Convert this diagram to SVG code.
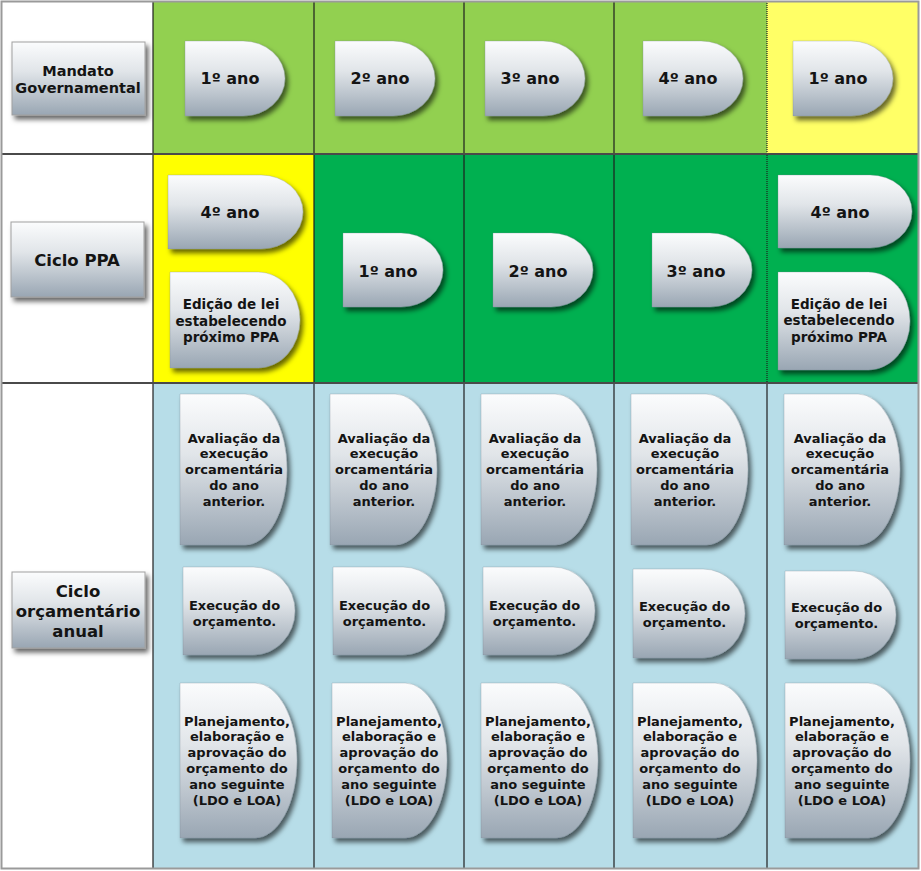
<svg xmlns="http://www.w3.org/2000/svg" width="921" height="871" viewBox="0 0 921 871">
<defs>
<linearGradient id="g" x1="0" y1="0" x2="0" y2="1">
<stop offset="0" stop-color="#fbfcfd"/>
<stop offset="0.4" stop-color="#e1e5e9"/>
<stop offset="1" stop-color="#99a6b3"/>
</linearGradient>
<filter id="sh" x="-15%" y="-15%" width="135%" height="135%">
<feDropShadow dx="3" dy="4" stdDeviation="2.4" flood-color="#000" flood-opacity="0.6"/>
</filter>
<style>
.s{fill:url(#g);filter:url(#sh);stroke:#7d8894;stroke-width:0.6;stroke-opacity:0.5}
.lb{fill:url(#g);filter:url(#sh);stroke:#a0a0a0;stroke-width:1}
.t{font-family:"DejaVu Sans",Verdana,sans-serif;font-weight:bold;fill:#141414;text-anchor:middle}
.f16{font-size:16px}
.f13{font-size:13px}
.f135{font-size:13.5px}
.f14{font-size:14.5px}
.f17{font-size:16.5px}
.vl{stroke:#1e1e1e;stroke-width:1.2}
.hl{stroke:#4a4a4a;stroke-width:2}
</style>
</defs>
<g id="grid">
<rect x="0" y="0" width="921" height="871" fill="#ffffff"/>
<rect x="153" y="1" width="161" height="153" fill="#92d050"/>
<rect x="314" y="1" width="150" height="153" fill="#92d050"/>
<rect x="464" y="1" width="150" height="153" fill="#92d050"/>
<rect x="614" y="1" width="153" height="153" fill="#92d050"/>
<rect x="767" y="1" width="152" height="153" fill="#ffff66"/>
<rect x="153" y="154" width="161" height="229" fill="#ffff00"/>
<rect x="314" y="154" width="605" height="229" fill="#00b050"/>
<rect x="153" y="383" width="766" height="485" fill="#b7dde8"/>
<line class="vl" x1="153" y1="1" x2="153" y2="868"/>
<line class="vl" x1="314" y1="1" x2="314" y2="868"/>
<line class="vl" x1="464" y1="1" x2="464" y2="868"/>
<line class="vl" x1="614" y1="1" x2="614" y2="868"/>
<line class="vl" x1="767" y1="1" x2="767" y2="383" stroke-dasharray="1 1"/>
<line class="vl" x1="767" y1="383" x2="767" y2="868"/>
<line class="hl" x1="1" y1="154" x2="919" y2="154"/>
<line class="hl" x1="1" y1="383" x2="919" y2="383"/>
<rect x="1.5" y="1.5" width="917" height="867" fill="none" stroke="#9a9a9a" stroke-width="2"/>
</g>
<g id="connectors"></g>

<g id="lbl-mandato">
<rect class="lb" x="12" y="42" width="133" height="73"/>
<text class="t f14" x="78" y="76">Mandato</text>
<text class="t f14" x="78" y="93">Governamental</text>
</g>
<g id="lbl-ppa">
<rect class="lb" x="11" y="222" width="133" height="75"/>
<text class="t f17" x="77" y="266">Ciclo PPA</text>
</g>
<g id="lbl-orc">
<rect class="lb" x="12" y="572" width="133" height="76"/>
<text class="t f17" x="78" y="597">Ciclo</text>
<text class="t f17" x="78" y="617">orçamentário</text>
<text class="t f17" x="78" y="637">anual</text>
</g>

<g id="m1"><path class="s" d="M185 41H243A42 37.5 0 0 1 285 78.5A42 37.5 0 0 1 243 116H185Z"/><text class="t f16" x="230" y="84">1º ano</text></g>
<g id="m2"><path class="s" d="M335 41H393A42 37.5 0 0 1 435 78.5A42 37.5 0 0 1 393 116H335Z"/><text class="t f16" x="380" y="84">2º ano</text></g>
<g id="m3"><path class="s" d="M485 41H543A42 37.5 0 0 1 585 78.5A42 37.5 0 0 1 543 116H485Z"/><text class="t f16" x="530" y="84">3º ano</text></g>
<g id="m4"><path class="s" d="M643 41H701A42 37.5 0 0 1 743 78.5A42 37.5 0 0 1 701 116H643Z"/><text class="t f16" x="688" y="84">4º ano</text></g>
<g id="m5"><path class="s" d="M793 41H851A42 37.5 0 0 1 893 78.5A42 37.5 0 0 1 851 116H793Z"/><text class="t f16" x="838" y="84">1º ano</text></g>

<g id="p1a"><path class="s" d="M168 175H261A42 37 0 0 1 303 212A42 37 0 0 1 261 249H168Z"/><text class="t f16" x="230" y="218">4º ano</text></g>
<g id="p1b"><path class="s" d="M170 272H258A42 48 0 0 1 300 320A42 48 0 0 1 258 368H170Z"/>
<text class="t f135" x="231" y="309">Edição de lei</text>
<text class="t f135" x="231" y="325.5">estabelecendo</text>
<text class="t f135" x="231" y="342">próximo PPA</text></g>
<g id="p2"><path class="s" d="M343 233H401A42 37 0 0 1 443 270A42 37 0 0 1 401 307H343Z"/><text class="t f16" x="388" y="277">1º ano</text></g>
<g id="p3"><path class="s" d="M493 233H551A42 37 0 0 1 593 270A42 37 0 0 1 551 307H493Z"/><text class="t f16" x="538" y="277">2º ano</text></g>
<g id="p4"><path class="s" d="M652 233H710A42 37 0 0 1 752 270A42 37 0 0 1 710 307H652Z"/><text class="t f16" x="696" y="277">3º ano</text></g>
<g id="p5a"><path class="s" d="M778 175H870A42 36.5 0 0 1 912 211.5A42 36.5 0 0 1 870 248H778Z"/><text class="t f16" x="840" y="218">4º ano</text></g>
<g id="p5b"><path class="s" d="M778 272H868A42 49 0 0 1 910 321A42 49 0 0 1 868 370H778Z"/>
<text class="t f135" x="839" y="308.5">Edição de lei</text>
<text class="t f135" x="839" y="325">estabelecendo</text>
<text class="t f135" x="839" y="341.5">próximo PPA</text></g>

<g id="a1"><path class="s" d="M180 394H245A42 75.5 0 0 1 287 469.5A42 75.5 0 0 1 245 545H180Z"/>
<text class="t f13" x="234" y="442.5">Avaliação da</text><text class="t f13" x="234" y="458.3">execução</text><text class="t f13" x="234" y="474">orcamentária</text><text class="t f13" x="234" y="489.8">do ano</text><text class="t f13" x="234" y="505.5">anterior.</text></g>
<g id="a2"><path class="s" d="M330 394H395A42 75.5 0 0 1 437 469.5A42 75.5 0 0 1 395 545H330Z"/>
<text class="t f13" x="384" y="442.5">Avaliação da</text><text class="t f13" x="384" y="458.3">execução</text><text class="t f13" x="384" y="474">orcamentária</text><text class="t f13" x="384" y="489.8">do ano</text><text class="t f13" x="384" y="505.5">anterior.</text></g>
<g id="a3"><path class="s" d="M481 394H555A42 75.5 0 0 1 597 469.5A42 75.5 0 0 1 555 545H481Z"/>
<text class="t f13" x="535" y="442.5">Avaliação da</text><text class="t f13" x="535" y="458.3">execução</text><text class="t f13" x="535" y="474">orcamentária</text><text class="t f13" x="535" y="489.8">do ano</text><text class="t f13" x="535" y="505.5">anterior.</text></g>
<g id="a4"><path class="s" d="M631 394H706A42 75.5 0 0 1 748 469.5A42 75.5 0 0 1 706 545H631Z"/>
<text class="t f13" x="685" y="442.5">Avaliação da</text><text class="t f13" x="685" y="458.3">execução</text><text class="t f13" x="685" y="474">orcamentária</text><text class="t f13" x="685" y="489.8">do ano</text><text class="t f13" x="685" y="505.5">anterior.</text></g>
<g id="a5"><path class="s" d="M784 394H858A42 75.5 0 0 1 900 469.5A42 75.5 0 0 1 858 545H784Z"/>
<text class="t f13" x="840" y="442.5">Avaliação da</text><text class="t f13" x="840" y="458.3">execução</text><text class="t f13" x="840" y="474">orcamentária</text><text class="t f13" x="840" y="489.8">do ano</text><text class="t f13" x="840" y="505.5">anterior.</text></g>

<g id="e1"><path class="s" d="M183 567H253A42 44 0 0 1 295 611A42 44 0 0 1 253 655H183Z"/>
<text class="t f13" x="234.5" y="610">Execução do</text><text class="t f13" x="234.5" y="625.5">orçamento.</text></g>
<g id="e2"><path class="s" d="M333 567H403A42 44 0 0 1 445 611A42 44 0 0 1 403 655H333Z"/>
<text class="t f13" x="384.5" y="610">Execução do</text><text class="t f13" x="384.5" y="625.5">orçamento.</text></g>
<g id="e3"><path class="s" d="M483 567H553A42 44 0 0 1 595 611A42 44 0 0 1 553 655H483Z"/>
<text class="t f13" x="534.5" y="610">Execução do</text><text class="t f13" x="534.5" y="625.5">orçamento.</text></g>
<g id="e4"><path class="s" d="M633 569H703A42 44.5 0 0 1 745 613.5A42 44.5 0 0 1 703 658H633Z"/>
<text class="t f13" x="684.5" y="611">Execução do</text><text class="t f13" x="684.5" y="626.5">orçamento.</text></g>
<g id="e5"><path class="s" d="M785 571H854A42 44 0 0 1 896 615A42 44 0 0 1 854 659H785Z"/>
<text class="t f13" x="836.5" y="612">Execução do</text><text class="t f13" x="836.5" y="627.5">orçamento.</text></g>

<g id="pl1"><path class="s" d="M180 683H255A42 77.5 0 0 1 297 760.5A42 77.5 0 0 1 255 838H180Z"/>
<text class="t f13" x="237" y="725.5">Planejamento,</text><text class="t f13" x="237" y="741.3">elaboração e</text><text class="t f13" x="237" y="757.1">aprovação do</text><text class="t f13" x="237" y="772.9">orçamento do</text><text class="t f13" x="237" y="788.7">ano seguinte</text><text class="t f13" x="237" y="804.5">(LDO e LOA)</text></g>
<g id="pl2"><path class="s" d="M332 683H405A42 77.5 0 0 1 447 760.5A42 77.5 0 0 1 405 838H332Z"/>
<text class="t f13" x="389" y="725.5">Planejamento,</text><text class="t f13" x="389" y="741.3">elaboração e</text><text class="t f13" x="389" y="757.1">aprovação do</text><text class="t f13" x="389" y="772.9">orçamento do</text><text class="t f13" x="389" y="788.7">ano seguinte</text><text class="t f13" x="389" y="804.5">(LDO e LOA)</text></g>
<g id="pl3"><path class="s" d="M481 683H556A42 77.5 0 0 1 598 760.5A42 77.5 0 0 1 556 838H481Z"/>
<text class="t f13" x="538" y="725.5">Planejamento,</text><text class="t f13" x="538" y="741.3">elaboração e</text><text class="t f13" x="538" y="757.1">aprovação do</text><text class="t f13" x="538" y="772.9">orçamento do</text><text class="t f13" x="538" y="788.7">ano seguinte</text><text class="t f13" x="538" y="804.5">(LDO e LOA)</text></g>
<g id="pl4"><path class="s" d="M633 683H715A42 77.5 0 0 1 757 760.5A42 77.5 0 0 1 715 838H633Z"/>
<text class="t f13" x="690" y="725.5">Planejamento,</text><text class="t f13" x="690" y="741.3">elaboração e</text><text class="t f13" x="690" y="757.1">aprovação do</text><text class="t f13" x="690" y="772.9">orçamento do</text><text class="t f13" x="690" y="788.7">ano seguinte</text><text class="t f13" x="690" y="804.5">(LDO e LOA)</text></g>
<g id="pl5"><path class="s" d="M785 683H868A42 77.5 0 0 1 910 760.5A42 77.5 0 0 1 868 838H785Z"/>
<text class="t f13" x="842" y="725.5">Planejamento,</text><text class="t f13" x="842" y="741.3">elaboração e</text><text class="t f13" x="842" y="757.1">aprovação do</text><text class="t f13" x="842" y="772.9">orçamento do</text><text class="t f13" x="842" y="788.7">ano seguinte</text><text class="t f13" x="842" y="804.5">(LDO e LOA)</text></g>
</svg>
